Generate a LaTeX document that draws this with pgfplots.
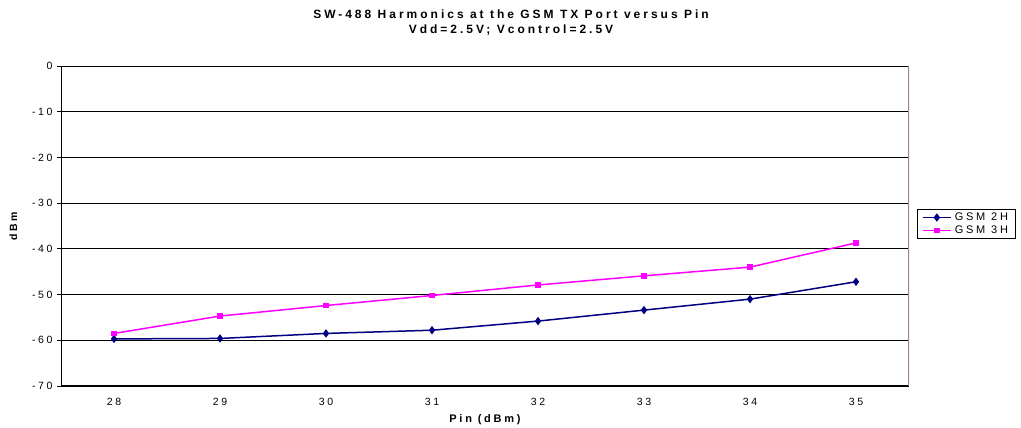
\documentclass[border=0pt]{standalone}
\usepackage{fontspec}
\setmainfont{Liberation Sans}
\newfontfamily\spaced[LetterSpace=25]{Liberation Sans}
\usepackage{pgfplots}
\pgfplotsset{compat=1.18}
\definecolor{navyc}{HTML}{000080}
\definecolor{magc}{HTML}{FF00FF}
\definecolor{rborder}{HTML}{A080A0}
\begin{document}
\begin{tikzpicture}[x=1pt,y=1pt]
\useasboundingbox (0,0) rectangle (1021,428);
\node[font=\spaced\bfseries\fontsize{12}{15}\selectfont, align=center] at (511,405.5) {SW-488 Harmonics at the GSM TX Port versus Pin\\Vdd=2.5V; Vcontrol=2.5V};
\begin{axis}[
  at={(61pt,42pt)}, anchor=south west,
  scale only axis, width=848pt, height=320pt,
  xmin=27.5, xmax=35.5, ymin=-70, ymax=0,
  xtick={28,...,35}, ytick={-70,-60,...,0},
  ytick pos=left,
  ymajorgrids, major grid style={black, line width=0.8pt},
  axis line style={draw=none},
  xtick style={draw=none},
  ytick style={black, line width=0.8pt},
  tick align=outside, major tick length=4pt,
  /pgf/number format/assume math mode=true,
  ticklabel style={font=\spaced\fontsize{10.5}{12}\selectfont},
  yticklabel style={xshift=-1pt},
  xticklabel style={yshift=-5pt},
  xlabel={Pin (dBm)}, ylabel={dBm},
  xlabel style={font=\spaced\bfseries\fontsize{11}{12}\selectfont, yshift=-2pt},
  ylabel style={font=\spaced\bfseries\fontsize{10.5}{12}\selectfont, yshift=8pt},
  legend style={at={(1.0094,0.553)}, anchor=north west, draw=black, line width=0.8pt,
    font=\spaced\fontsize{11}{12}\selectfont, inner xsep=4.5pt, inner ysep=2pt, row sep=1pt,
    nodes={inner xsep=3pt, inner ysep=1.5pt},
    legend cell align=left},
  legend image code/.code={\draw[mark repeat=2,mark phase=2,#1] plot coordinates {(0cm,0cm) (0.5cm,0cm) (1cm,0cm)};},
]
\addplot[navyc, line width=1.5pt, mark=diamond*, mark size=3pt, mark options={solid}] coordinates {
(28,-59.7) (29,-59.6) (30,-58.5) (31,-57.8) (32,-55.8) (33,-53.4) (34,-51.0) (35,-47.2)};
\addlegendentry{GSM 2H}
\addplot[magc, line width=1.5pt, mark=square*, mark size=2pt, mark options={solid}] coordinates {
(28,-58.5) (29,-54.7) (30,-52.4) (31,-50.2) (32,-47.9) (33,-45.9) (34,-44.0) (35,-38.7)};
\addlegendentry{GSM 3H}
\draw[black, line width=1pt] (rel axis cs:0,0) -- (rel axis cs:0,1);
\draw[black, line width=1pt] (rel axis cs:0,0) -- (rel axis cs:1,0);
\draw[rborder, line width=1.5pt] (rel axis cs:1,0) -- (rel axis cs:1,1);
\end{axis}
\end{tikzpicture}
\end{document}
